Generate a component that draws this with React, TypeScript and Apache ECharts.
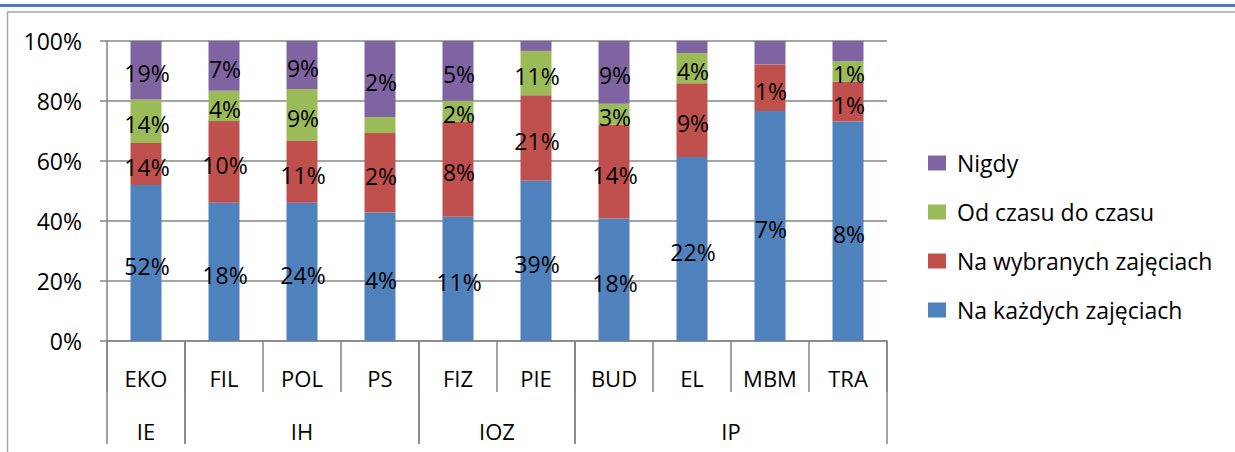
import React, { useEffect, useRef } from "react";
import * as echarts from "echarts";

const categories = ["EKO", "FIL", "POL", "PS", "FIZ", "PIE", "BUD", "EL", "MBM", "TRA"];
const groups = [
  { name: "IE", start: 0, end: 0 },
  { name: "IH", start: 1, end: 3 },
  { name: "IOZ", start: 4, end: 5 },
  { name: "IP", start: 6, end: 9 },
];
const seriesNames = ["Na każdych zajęciach", "Na wybranych zajęciach", "Od czasu do czasu", "Nigdy"];
const legendOrder = ["Nigdy", "Od czasu do czasu", "Na wybranych zajęciach", "Na każdych zajęciach"];
const colors = ["#4F81BD", "#C0504D", "#9BBB59", "#8064A2"];

// segment heights (share of bar, %)
const kazdych = [52, 46.1, 46.1, 42.8, 41.4, 53.4, 40.8, 61.3, 76.7, 73.2];
const wybranych = [14, 27.2, 20.7, 26.5, 31.8, 28.5, 31.4, 24.6, 15.5, 13.2];
const odCzasu = [14.5, 10.1, 17.2, 5.4, 6.9, 14.8, 6.9, 10.1, 0, 6.9];
const nigdy = [19.5, 16.6, 16, 25.3, 19.9, 3.3, 20.9, 4, 7.8, 6.7];

// printed data labels
const kazdychLabels = [52, 18, 24, 4, 11, 39, 18, 22, 7, 8];
const wybranychLabels = [14, 10, 11, 2, 8, 21, 14, 9, 1, 1];
const odCzasuLabels = [14, 4, 9, null, 2, 11, 3, 4, null, 1];
const nigdyLabels = [19, 7, 9, 2, 5, null, 9, null, null, null];

const yTicks = [0, 20, 40, 60, 80, 100];

const FONT = "Open Sans";
const FS = 23;
const GRID = "#868686";

export default function App() {
  const ref = useRef<HTMLDivElement>(null);
  useEffect(() => {
    if (!ref.current) return;
    const chart = echarts.init(ref.current, null, { renderer: "svg" });
    const values = [kazdych, wybranych, odCzasu, nigdy];
    const labels = [kazdychLabels, wybranychLabels, odCzasuLabels, nigdyLabels];
    const barSeries = seriesNames.map((name, si) => ({
      name,
      type: "bar",
      stack: "total",
      barWidth: 31,
      data: values[si],
      itemStyle: { color: colors[si] },
      label: {
        show: true,
        position: "inside",
        offset: [1, 3],
        color: "#000",
        fontFamily: FONT,
        fontSize: FS,
        formatter: (p: any) => {
          const v = labels[si][p.dataIndex];
          return v === null || v === undefined ? "" : v + "%";
        },
      },
    }));
    const groupSeries = {
      type: "custom",
      name: "groups",
      silent: true,
      clip: false,
      data: groups.map((g) => [g.start, 0]),
      renderItem: (params: any, api: any) => {
        const g = groups[params.dataIndex];
        const band = api.size([1, 0])[0];
        const p0 = api.coord([g.start, 0]);
        const p1 = api.coord([g.end, 0]);
        const left = p0[0] - band / 2;
        const right = p1[0] + band / 2;
        const y0 = p0[1];
        return {
          type: "group",
          children: [
            { type: "line", shape: { x1: left, y1: y0, x2: left, y2: y0 + 103 }, style: { stroke: GRID, lineWidth: 1.5 } },
            { type: "line", shape: { x1: right, y1: y0, x2: right, y2: y0 + 103 }, style: { stroke: GRID, lineWidth: 1.5 } },
            {
              type: "text",
              style: {
                text: g.name,
                x: (left + right) / 2,
                y: y0 + 90,
                align: "center",
                verticalAlign: "middle",
                fontFamily: FONT,
                fontSize: FS - 1,
                fill: "#000",
              },
            },
          ],
        };
      },
    };
    chart.setOption({
      animation: false,
      backgroundColor: "#fff",
      textStyle: { fontFamily: FONT },
      grid: { left: 107, top: 41, width: 780, height: 300, containLabel: false },
      graphic: [
        { type: "rect", shape: { x: 0, y: 4, width: 1235, height: 3 }, style: { fill: "#4A7CCB" } },
        {
          type: "rect",
          shape: { x: 7.5, y: 12, width: 1300, height: 500 },
          style: { fill: "none", stroke: "#A6A6A6", lineWidth: 1.5 },
        },
      ],
      legend: {
        data: legendOrder,
        orient: "vertical",
        left: 923,
        top: 146,
        icon: "rect",
        itemWidth: 18,
        itemHeight: 15,
        itemGap: 25,
        textStyle: { fontFamily: FONT, fontSize: FS, color: "#000", lineHeight: 24, padding: [0, 0, 0, 6] },
        selectedMode: false,
      },
      xAxis: {
        type: "category",
        data: categories,
        boundaryGap: true,
        axisLine: { lineStyle: { color: GRID, width: 1.5 } },
        axisTick: { show: true, interval: 0, length: 51, lineStyle: { color: GRID, width: 1.5 } },
        axisLabel: { interval: 0, margin: 26, color: "#000", fontFamily: FONT, fontSize: FS - 1 },
      },
      yAxis: {
        type: "value",
        min: 0,
        max: 100,
        interval: 20,
        axisLine: { show: true, lineStyle: { color: GRID, width: 1.5 } },
        axisTick: { show: true, length: 7, lineStyle: { color: GRID, width: 1.5 } },
        splitLine: { show: true, lineStyle: { color: GRID, width: 1.5 } },
        axisLabel: {
          margin: 25,
          color: "#000",
          fontFamily: FONT,
          fontSize: FS,
          formatter: (v: number) => (yTicks.includes(v) ? v + "%" : ""),
        },
      },
      series: [...barSeries, groupSeries],
    });
    return () => chart.dispose();
  }, []);
  return (
    <div
      ref={ref}
      style={{ position: "fixed", left: 0, top: 0, width: 1235, height: 452, background: "#fff" }}
    />
  );
}
